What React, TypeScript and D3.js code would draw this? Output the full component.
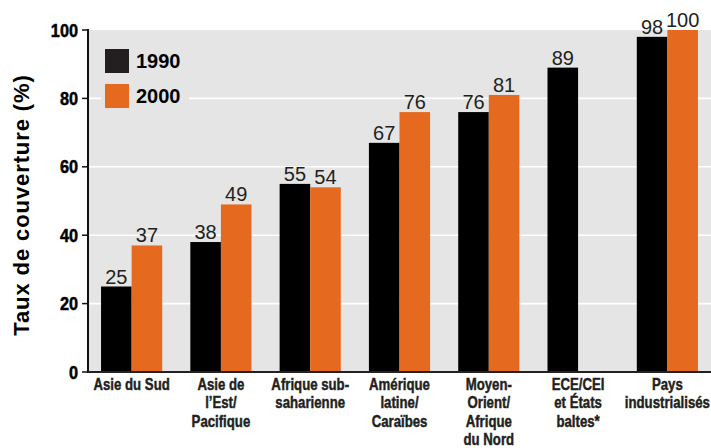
import React from "react";
import * as d3 from "d3";

// Regions and coverage rates (%) for 1990 and 2000
const categories = [
  "Asie du Sud",
  "Asie de l’Est/Pacifique",
  "Afrique sub-saharienne",
  "Amérique latine/Caraïbes",
  "Moyen-Orient/Afrique du Nord",
  "ECE/CEI et États baltes*",
  "Pays industrialisés",
];
const categoryLines = [
  ["Asie du Sud"],
  ["Asie de", "l’Est/", "Pacifique"],
  ["Afrique sub-", "saharienne"],
  ["Amérique", "latine/", "Caraïbes"],
  ["Moyen-", "Orient/", "Afrique", "du Nord"],
  ["ECE/CEI", "et États", "baltes*"],
  ["Pays", "industrialisés"],
];
const seriesNames = ["1990", "2000"];
const values1990 = [25, 38, 55, 67, 76, 89, 98];
const values2000: (number | null)[] = [37, 49, 54, 76, 81, null, 100];
const yTicks = [0, 20, 40, 60, 80, 100];

const W = 711;
const H = 448;
const left = 88;
const right = 711;
const top = 30;
const bottom = 372;

const colors = ["#000000", "#e56a20"];
const swatchColors = ["#231f20", "#e56a20"];
const bg = "#e5e5e5";
const ink = "#231f20";

const sans = "'Liberation Sans', Arial, Helvetica, sans-serif";

export default function App() {
  const x = d3
    .scaleBand<string>()
    .domain(categories)
    .range([left, right])
    .paddingInner(0.315)
    .paddingOuter(0.146);
  const xs = d3.scaleBand<string>().domain(seriesNames).range([0, x.bandwidth()]);
  const y = d3.scaleLinear().domain([0, 100]).range([bottom, top]);

  const series = [values1990, values2000];

  return (
    <svg
      width={W}
      height={H}
      style={{ position: "absolute", left: 0, top: 0, display: "block", background: "#fff" }}
    >
      {/* plot background */}
      <rect x={left} y={top} width={right - left} height={bottom - top} fill={bg} />

      {/* white gridlines */}
      {yTicks
        .filter((t) => t > 0 && t < 100)
        .map((t) => (
          <line key={t} x1={left} x2={right} y1={y(t)} y2={y(t)} stroke="#ffffff" strokeWidth={1.6} />
        ))}

      {/* legend */}
      <rect x={101} y={44} width={88} height={70} fill={bg} />
      {seriesNames.map((s, i) => (
        <g key={s}>
          <rect x={105} y={49 + i * 35} width={24} height={24} fill={swatchColors[i]} />
          <text
            x={136}
            y={68 + i * 34.5}
            fontFamily={sans}
            fontWeight="bold"
            fontSize={20}
            fill="#000"
          >
            {s}
          </text>
        </g>
      ))}

      {/* bars */}
      {categories.map((c, ci) =>
        series.map((vals, si) => {
          const v = vals[ci];
          if (v == null) return null;
          const bx = (x(c) as number) + (xs(seriesNames[si]) as number);
          return (
            <g key={c + si}>
              <rect x={bx} y={y(v)} width={xs.bandwidth()} height={bottom - y(v)} fill={colors[si]} />
              <text
                x={bx + xs.bandwidth() / 2}
                y={y(v) - 3}
                textAnchor="middle"
                fontFamily={sans}
                fontSize={20}
                fill={ink}
              >
                {v}
              </text>
            </g>
          );
        })
      )}

      {/* y axis */}
      <line x1={left} x2={left} y1={top - 1} y2={bottom + 1} stroke="#111" strokeWidth={2} />
      {yTicks.map((t) => (
        <g key={t}>
          <line x1={left - 6} x2={left} y1={y(t)} y2={y(t)} stroke="#111" strokeWidth={1.5} />
          <g transform={`translate(78, ${y(t)}) scale(0.88, 1)`}>
            <text
              x={0}
              y={0}
              dy="0.36em"
              textAnchor="end"
              fontFamily={sans}
              fontWeight="bold"
              fontSize={18.5}
              fill="#000"
              stroke="#000"
              strokeWidth={0.5}
            >
              {t}
            </text>
          </g>
        </g>
      ))}

      {/* x axis */}
      <line x1={left} x2={right} y1={bottom} y2={bottom} stroke="#222" strokeWidth={2} />
      {categories.map((c, ci) => (
        <g
          key={c}
          transform={`translate(${(x(c) as number) + x.bandwidth() / 2}, 0) scale(0.8, 1)`}
        >
          <text
            textAnchor="middle"
            fontFamily={sans}
            fontWeight="bold"
            fontSize={16.5}
            fill={ink}
            stroke={ink}
            strokeWidth={0.45}
          >
            {categoryLines[ci].map((line, li) => (
              <tspan key={li} x={0} y={390 + li * 18.5}>
                {line}
              </tspan>
            ))}
          </text>
        </g>
      ))}

      {/* y axis title */}
      <text
        transform={`translate(29, 205) rotate(-90)`}
        textAnchor="middle"
        fontFamily={sans}
        fontWeight="bold"
        fontSize={22}
        letterSpacing={0.9}
        fill="#000"
      >
        Taux de couverture (%)
      </text>
    </svg>
  );
}
